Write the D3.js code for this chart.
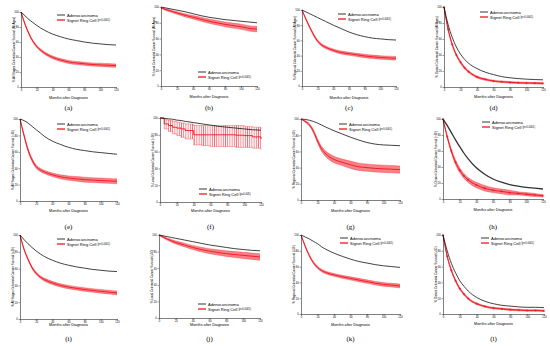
<!DOCTYPE html>
<html><head><meta charset="utf-8">
<script src="https://cdn.jsdelivr.net/npm/d3@7"></script>
<style>
html,body{margin:0;padding:0;background:#fff;}
text{font-family:"Liberation Sans",Arial,sans-serif;}
</style></head>
<body>
<svg id="c" width="550" height="346"></svg>
<script>
// ---------- DATA ----------
const months = [0,5,10,15,20,25,30,40,50,60,70,80,90,100,110,120];
const xTicks = [0,20,40,60,80,100,120];
const yTicks = [0,20,40,60,80,100];
const panelLetters = ["(a)","(b)","(c)","(d)","(e)","(f)","(g)","(h)","(i)","(j)","(k)","(l)"];
const yLabels = [
 "% All Stages Colorectal Cancer Survival (All Ages)",
 "% Local Colorectal Cancer Survival (All Ages)",
 "% Regional Colorectal Cancer Survival (All Ages)",
 "% Distant Colorectal Cancer Survival (All Ages)",
 "% All Stages Colorectal Cancer Survival (<50)",
 "% Local Colorectal Cancer Survival (<50)",
 "% Regional Colorectal Cancer Survival (<50)",
 "% Distant Colorectal Cancer Survival (<50)",
 "% All Stages Colorectal Cancer Survival (≥50)",
 "% Local Colorectal Cancer Survival (≥50)",
 "% Regional Colorectal Cancer Survival (≥50)",
 "% Distant Colorectal Cancer Survival (≥50)"];
const xLabel = "Months after Diagnosis";
const seriesNames = ["Adenocarcinoma","Signet Ring Cell"];
const pValues = ["(p<0.0001)","(p<0.0001)","(p<0.0001)","(p<0.0001)","(p<0.0001)","(p=0.005)","(p<0.0001)","(p<0.0001)","(p<0.0001)","(p<0.0001)","(p<0.0001)","(p<0.0001)"];

const adenoA = [100,95,90,86,82,78.5,75.5,70.5,67,64,62,60,58.5,57.5,56.5,56];
const signetA = [100,84,71,61,54,49,45,39.5,36,33.5,32,31,30,29.5,29,28.5];
const signetHwA = [0,1,1.2,1.4,1.5,1.6,1.7,1.8,1.9,2,2,2.1,2.1,2.2,2.2,2.3];

const adenoB = [100,99,98,97,96,95,94,91.5,89,87,85.5,84,83,82,81,80];
const signetB = [99,97,95.5,94,92.5,91,89.5,87,84.5,82,80,78,76.5,75,73,72];
const signetHwB = [0.5,1,1.2,1.4,1.6,1.8,2,2.2,2.5,2.7,2.9,3,3.2,3.3,3.4,3.5];

const adenoC = [100,97.5,95,92.5,90,87.5,85,80,75.5,71,67.5,65,63,62,61,60.5];
const signetC = [100,88,77,67,59,54,51,47,44,42.5,41,39.5,38.5,37.5,37,36.5];
const signetHwC = [0,1,1.2,1.4,1.5,1.6,1.7,1.8,1.9,2,2.1,2.2,2.2,2.3,2.3,2.4];

const adenoD = [100,78,62,50,41,34.5,29.5,23,18.5,15.5,13,11.5,10.5,9.8,9.3,9];
const signetD = [100,72,53,40,31,24,19,12.5,9.5,7.5,6.5,5.8,5.3,5,4.8,4.5];
const signetHwD = [0,1.5,1.5,1.5,1.5,1.4,1.3,1.2,1.1,1,1,1,1,1,1,1];

const adenoE = [100,98,95,91,87,83,79,73,69,65.5,63,61.5,60,59,58,57];
const signetE = [100,80,62,50,42,38,35.5,32,29.5,28,27,26,25.5,25,24.5,24];
const signetHwE = [0,1.5,2,2,2,2,2,2.2,2.4,2.6,2.8,3,3,3,3,3];

const adenoF = [100,99.5,99,98.5,97.5,97,96,94.5,93,91.5,90,89,88,87,86,85.5];
const signetF = [100,93,91,89,88,87,85,80,80,80,80,80,79.5,79,77.5,75];
const signetLoF = [100,87,84,81,79,77,75,68,67,66,66,66,65,65,64,62];
const signetHiF = [100,98,97,96,95,94,93,91,91,91,91,91,91,90,89,87];

const adenoG = [100,99.5,98.5,97,95,92.5,90,85.5,81.5,77.5,74,71,69,68,67.5,67];
const signetG = [100,97,93,85,73,63,57,50,46.5,43.5,41,40,39,38.5,38,37.5];
const signetHwG = [0,1,1.5,2,2.5,3,3.5,4,4,4.5,4.5,4.5,4.5,4.5,4.5,4.5];

const adenoH = [100,92,83,74,65.5,57.5,50.5,39,31,25,21,18,16,14.5,13.5,12.5];
const signetH = [100,78,60,46,36,29,24,17.5,13.5,11,9.5,8,7,6,5,4];
const signetHwH = [0,2,2.5,3,3,3,3,3.5,3.5,3,3,3,2,2,2,1.5];

const adenoI = [100,94.5,89.5,85,81,77.5,74.5,70,66.5,64,62,60.5,59,58,57,56.5];
const signetI = [100,83,71,61,54.5,50,47,43,40,38,36.5,35,34,33,32,31];
const signetHwI = [0,1,1.2,1.4,1.5,1.6,1.7,1.8,1.9,2,2,2.1,2.1,2.2,2.2,2.3];

const adenoJ = [100,99,98,97,96,95,94,92,90,88,86.5,85,83.5,82.5,81.5,81];
const signetJ = [100,97.5,95,93,91,89.5,88,85,82.5,80.5,79,77.5,76.5,75.5,74.5,73.5];
const signetHwJ = [0.5,1,1.3,1.6,1.8,2,2.2,2.5,2.8,3,3.2,3.4,3.6,3.8,3.9,4];

const adenoK = [100,97.5,95,92,89,85,82,77,73,69.5,66.5,64.5,62.5,61,60,59];
const signetK = [100,86,74,65,59,55,52.5,49.5,47,45,43,41,39,37.5,36.5,35.5];
const signetHwK = [0,1,1.2,1.4,1.5,1.6,1.7,1.8,1.9,2,2.1,2.2,2.2,2.3,2.3,2.4];

const adenoL = [100,80,64,52,42,35,29,21,16,13,11,10,9,8.5,8.5,8];
const signetL = [100,73,55,42,32,25,19.5,13,9.5,7.5,6.5,5.5,5,4.5,4.5,4];
const signetHwL = [0,1.5,1.5,1.5,1.4,1.3,1.2,1.1,1,1,1,1,1,1,1,1];

// ---------- LAYOUT (positions only) ----------
const layout = [
 {L:21, R:116,T:12, B:87, xl:97.5, lab:108, lg:[57,15]},
 {L:161,R:257,T:7,  B:86, xl:96.7, lab:108, lg:[198,72]},
 {L:302,R:396,T:10, B:86, xl:97.7, lab:108, lg:[338,14]},
 {L:444,R:543,T:7,  B:87, xl:97.3, lab:108, lg:[480,12]},
 {L:20, R:117,T:119,B:201,xl:210.7,lab:227, lg:[57,124]},
 {L:160,R:261,T:118,B:202,xl:210.7,lab:227, lg:[199,189]},
 {L:301,R:400,T:119,B:200,xl:211, lab:227, lg:[339,124]},
 {L:443,R:543,T:119,B:199,xl:210, lab:227, lg:[482,122]},
 {L:20, R:117,T:235,B:319,xl:324.7,lab:339, lg:[57,239]},
 {L:159,R:260,T:235,B:318,xl:324.7,lab:339, lg:[198,304]},
 {L:301,R:400,T:235,B:314,xl:324.7,lab:339, lg:[340,238]},
 {L:443,R:544,T:235,B:314,xl:323.7,lab:339, lg:[481,238]}
];

const panels = [
 {a:adenoA,s:signetA,hw:signetHwA},{a:adenoB,s:signetB,hw:signetHwB},
 {a:adenoC,s:signetC,hw:signetHwC},{a:adenoD,s:signetD,hw:signetHwD,mk:true},
 {a:adenoE,s:signetE,hw:signetHwE},{a:adenoF,s:signetF,lo:signetLoF,hi:signetHiF,step:true},
 {a:adenoG,s:signetG,hw:signetHwG},{a:adenoH,s:signetH,hw:signetHwH,mk:true,thick:true},
 {a:adenoI,s:signetI,hw:signetHwI},{a:adenoJ,s:signetJ,hw:signetHwJ},
 {a:adenoK,s:signetK,hw:signetHwK},{a:adenoL,s:signetL,hw:signetHwL,mk:true}
];

const RED = "#f0141e";
const svg = d3.select("#c");
const defs = svg.append("defs");
function hatch(id, w, sw, op){
  const p = defs.append("pattern").attr("id",id).attr("patternUnits","userSpaceOnUse")
    .attr("width",w).attr("height",4);
  p.append("rect").attr("width",w).attr("height",4).attr("fill",RED).attr("opacity",op);
  p.append("line").attr("x1",w/2).attr("x2",w/2).attr("y1",0).attr("y2",4)
    .attr("stroke",RED).attr("stroke-width",sw);
}
hatch("hatch",1.3,0.6,0.25);
hatch("hatchF",2.2,0.5,0.05);

panels.forEach((p,i)=>{
  const g = layout[i];
  const x = d3.scaleLinear().domain([0,120]).range([g.L,g.R]);
  const y = d3.scaleLinear().domain([0,100]).range([g.B,g.T]);
  const grp = svg.append("g");
  const data = months.map((m,k)=>({m, a:p.a[k], s:p.s[k],
     lo: p.lo ? p.lo[k] : p.s[k]-p.hw[k], hi: p.hi ? p.hi[k] : p.s[k]+p.hw[k]}));
  const curve = p.step ? d3.curveStepAfter : d3.curveMonotoneX;

  // red confidence band
  grp.append("path").datum(data)
    .attr("d", d3.area().x(d=>x(d.m)).y0(d=>y(d.lo)).y1(d=>y(d.hi)).curve(curve))
    .attr("fill", p.step ? "url(#hatchF)" : "url(#hatch)").attr("stroke","none");
  ["lo","hi"].forEach(key=>{
    grp.append("path").datum(data)
      .attr("d", d3.line().x(d=>x(d.m)).y(d=>y(d[key])).curve(curve))
      .attr("fill","none").attr("stroke",RED).attr("stroke-width",0.4).attr("opacity",0.8);
  });
  grp.append("path").datum(data)
    .attr("d", d3.line().x(d=>x(d.m)).y(d=>y(d.s)).curve(curve))
    .attr("fill","none").attr("stroke",RED).attr("stroke-width",0.9);
  if(p.mk){
    grp.selectAll(".mk").data(data).enter().append("path")
      .attr("transform",d=>`translate(${x(d.m)},${y(d.s)})`)
      .attr("d","M-1.2,0H1.2M0,-1.2V1.2").attr("stroke",RED).attr("stroke-width",0.6);
  }
  // black adenocarcinoma line
  grp.append("path").datum(data)
    .attr("d", d3.line().x(d=>x(d.m)).y(d=>y(d.a)).curve(d3.curveMonotoneX))
    .attr("fill","none").attr("stroke", p.thick ? "#333" : "#111")
    .attr("stroke-width", p.thick ? 1.3 : 0.8);

  // axes
  const ax = grp.append("g").attr("transform",`translate(0,${g.B})`)
    .call(d3.axisBottom(x).tickValues(xTicks).tickSize(1.5).tickSizeOuter(0).tickPadding(0.8));
  const ay = grp.append("g").attr("transform",`translate(${g.L},0)`)
    .call(d3.axisLeft(y).tickValues(yTicks).tickSize(1.5).tickSizeOuter(0).tickPadding(0.8));
  [ax,ay].forEach(a=>{
    a.select(".domain").attr("stroke","#000").attr("stroke-width",0.5);
    a.selectAll(".tick line").attr("stroke","#000").attr("stroke-width",0.4);
    a.selectAll(".tick text").attr("font-size","2.7px").attr("fill","#000")
      .attr("font-family","Liberation Sans, Arial, sans-serif");
  });
  // axis labels
  grp.append("text").attr("x",(g.L+g.R)/2).attr("y",g.xl).attr("text-anchor","middle")
    .attr("dominant-baseline","central").attr("font-size","3.8px").text(xLabel);
  grp.append("text").attr("transform",`translate(${g.L-6.8},${(g.T+g.B)/2}) rotate(-90)`)
    .attr("text-anchor","middle").attr("dominant-baseline","central")
    .attr("font-size","2.95px").text(yLabels[i]);
  // legend
  const [lx,ly] = g.lg;
  grp.append("line").attr("x1",lx).attr("x2",lx+8).attr("y1",ly).attr("y2",ly)
    .attr("stroke","#000").attr("stroke-width",0.8);
  grp.append("text").attr("x",lx+10).attr("y",ly).attr("dominant-baseline","central")
    .attr("font-size","4.1px").text(seriesNames[0]);
  grp.append("line").attr("x1",lx).attr("x2",lx+8).attr("y1",ly+5).attr("y2",ly+5)
    .attr("stroke",RED).attr("stroke-width",1.3);
  const t2 = grp.append("text").attr("x",lx+10).attr("y",ly+5).attr("dominant-baseline","central")
    .attr("font-size","4.1px").text(seriesNames[1]+" ");
  t2.append("tspan").attr("font-size","2.6px").text(pValues[i]);
  // panel letter
  grp.append("text").attr("x",(g.L+g.R)/2).attr("y",g.lab).attr("text-anchor","middle")
    .attr("dominant-baseline","central").attr("font-size","7px")
    .style("font-family","'Liberation Serif','Times New Roman',serif").text(panelLetters[i]);
});
</script>
</body></html>
